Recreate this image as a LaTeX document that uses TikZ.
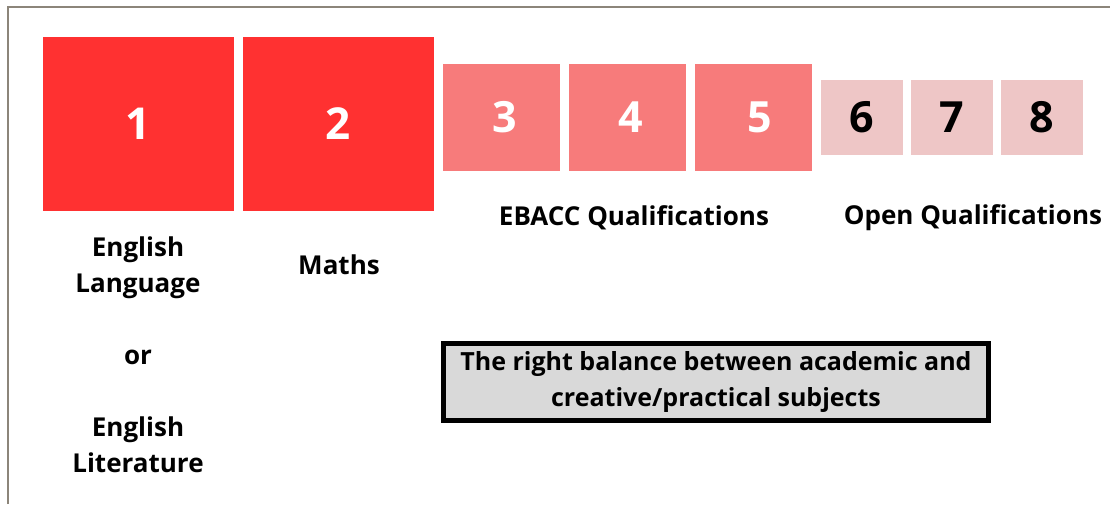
\documentclass[tikz,border=0pt]{standalone}
\usepackage{fontspec}
\setmainfont{Open Sans}
\definecolor{strongred}{HTML}{FF3131}
\definecolor{midred}{HTML}{F77B7B}
\definecolor{palered}{HTML}{EEC6C6}
\definecolor{framegray}{HTML}{8C857A}
\definecolor{notegray}{HTML}{D9D9D9}
\begin{document}
\begin{tikzpicture}[x=1pt, y=-1pt,
  corebox/.style={fill=strongred, minimum width=191pt, minimum height=174pt, text=white,
    font=\fontsize{44}{44}\selectfont\bfseries},
  ebaccbox/.style={fill=midred, minimum width=117pt, minimum height=107pt, text=white,
    font=\fontsize{43}{43}\selectfont\bfseries},
  openbox/.style={fill=palered, minimum width=82pt, minimum height=75pt, text=black,
    font=\fontsize{43}{43}\selectfont\bfseries},
  label/.style={align=center, font=\fontsize{26}{36}\selectfont\bfseries}]
\useasboundingbox (0,0) rectangle (1110,504);
% frame
\draw[framegray, line width=2pt] (8,504) -- (8,7) -- (1110,7);
% core subjects
\node[corebox] (one) at (138.5,124) {1};
\node[corebox] (two) at (338.5,124) {2};
% ebacc
\node[ebaccbox] (three) at (501.5,117.5) {\hspace{6pt}3};
\node[ebaccbox] (four) at (627.5,117.5) {\hspace{6pt}4};
\node[ebaccbox] (five) at (753.5,117.5) {\hspace{12pt}5};
% open
\node[openbox] (six) at (861.5,117.5) {6};
\node[openbox] (seven) at (951.5,117.5) {7};
\node[openbox] (eight) at (1042,117.5) {8};
% labels
\node[label] (english) at (138,354.5) {English\\Language\\[36pt]or\\[36pt]English\\Literature};
\node[label] (maths) at (339,265) {Maths};
\node[label] (ebacc) at (634,218) {EBACC Qualifications};
\node[label] (open) at (973,218) {Open Qualifications};
% balance note
\node[draw=black, line width=5pt, fill=notegray, minimum width=545pt, minimum height=77pt,
  align=center, font=\fontsize{25}{36}\selectfont\bfseries] (balance) at (716,382)
  {The right balance between academic and\\creative/practical subjects};
\end{tikzpicture}
\end{document}
